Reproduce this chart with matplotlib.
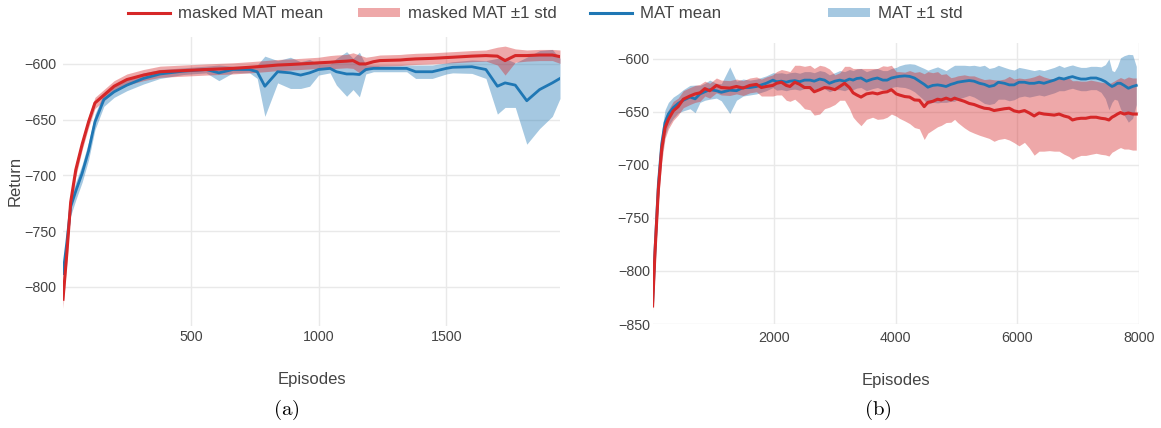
import matplotlib
matplotlib.use("Agg")
import matplotlib.pyplot as plt
from matplotlib.lines import Line2D
from matplotlib.patches import Patch
import numpy as np

plt.rcParams['font.family'] = ['Liberation Sans', 'DejaVu Sans']
plt.rcParams['mathtext.fontset'] = 'cm'

RED = '#d62728'
BLUE = '#1f77b4'
TXT = '#444444'
GRID = '#e9e9e9'

# ---- panel (a) ----
a_x = [0, 15, 30, 50, 75, 100, 125, 160, 200, 250, 315, 380, 470, 560, 610, 665,
       730, 760, 790, 840, 890, 930, 965, 1000, 1045, 1070, 1110, 1135, 1160, 1185,
       1215, 1240, 1320, 1345, 1380, 1445, 1500, 1525, 1600, 1655, 1700, 1730, 1770,
       1815, 1865, 1915, 1945]
a_masked_mean = [-811, -770, -724, -695, -672, -652, -635, -628, -620, -614, -610, -607,
                 -606, -605, -604.5, -604, -603, -602.5, -602, -601, -600.5, -600, -599.5,
                 -599, -598.5, -598, -597.5, -597, -600, -600, -598, -597, -596.5, -596,
                 -595.5, -595, -594.3, -594, -593, -592.5, -593, -597, -592.5, -592.5,
                 -592, -592, -593.5]
a_masked_std = [8, 8, 7, 6, 5, 5, 5, 5, 5, 5, 5, 5, 5, 5, 5, 5, 5, 5, 5, 5, 5, 5, 5,
                5, 6, 6, 6, 7, 8, 6, 5, 5, 5, 5, 5, 5, 5, 5, 5, 5, 8, 13, 6, 5, 5, 5, 6]
a_mat_mean = [-788, -760, -728, -714, -698, -678, -652, -632, -625, -619, -613, -609,
              -606.5, -605, -608, -605, -605, -607, -620, -607, -608, -610, -608, -605,
              -604, -607, -609, -609, -609.5, -605, -604, -604, -604, -604, -607, -607,
              -604, -603, -602.5, -605, -620, -617, -619, -633, -623, -617, -613]
a_mat_std = [8, 8, 8, 8, 8, 8, 7, 6, 5, 5, 5, 4, 3, 3, 7, 3, 3, 6, 27, 10, 14, 12, 12,
             5, 4, 12, 20, 14, 20, 4, 3, 3, 3, 3, 6, 6, 5, 5, 6, 8, 25, 22, 20, 39, 35,
             30, 18]

# ---- panel (b) ----
b_x = [0, 40, 95, 150, 205, 260, 340, 420, 505, 615, 700, 780, 860, 940, 1050, 1130,
       1270, 1380, 1490, 1600, 1710, 1790, 1870, 1980, 2040, 2120, 2200, 2260, 2340,
       2420, 2500, 2590, 2660, 2750, 2830, 2910, 3000, 3080, 3160, 3240, 3300, 3360,
       3430, 3520, 3620, 3700, 3790, 3860, 3930, 4010, 4060, 4150, 4230, 4310, 4390,
       4470, 4530, 4610, 4690, 4750, 4830, 4910, 4970, 5020, 5130, 5210, 5290, 5380,
       5460, 5540, 5620, 5690, 5790, 5870, 5950, 6030, 6120, 6200, 6280, 6360, 6440,
       6530, 6610, 6690, 6770, 6850, 6910, 6980, 7050, 7130, 7210, 7300, 7380, 7450,
       7510, 7560, 7600, 7650, 7700, 7760, 7830, 7900, 7960]
b_masked_mean = [-833, -782, -723, -685, -665, -657, -649, -645, -638, -635, -633, -632,
                 -628, -630, -625, -627, -627.5, -626, -627.5, -625, -624, -627, -626,
                 -625, -623, -622, -625, -626, -622, -624, -627, -627, -631, -629, -627,
                 -627.5, -629, -626, -623, -627, -632, -634, -636, -633, -632, -633,
                 -631.5, -631, -629, -633, -634, -635.5, -636, -638.7, -639, -645, -641,
                 -640, -638, -638.7, -637, -638.7, -637, -638, -640, -642, -643, -645,
                 -646.5, -647, -648.7, -648, -647, -646.5, -649, -650, -648.7, -651,
                 -653.8, -651, -652, -652.5, -653, -652, -653.8, -655, -657.6, -656.5,
                 -656, -656, -655, -655, -656, -656.5, -657.6, -655, -653.8, -652,
                 -650.6, -652, -651, -652, -652]
b_masked_std = [4, 10, 12, 12, 10, 9, 9, 8, 8, 8, 8, 8, 7, 7, 7, 7, 7, 7, 7, 7, 7, 8, 9,
                10, 11, 12, 14, 14, 16, 18, 20, 21, 22, 23, 20, 18, 14, 13, 16, 20, 23,
                25, 27, 24, 23, 24, 25, 24, 23, 21, 22, 23, 25, 26, 27, 31, 29, 27, 26,
                24, 23, 21, 20, 22, 25, 26, 27, 27, 27, 28, 29, 28, 28, 30, 30, 32, 30,
                33, 37, 36, 35, 34, 34, 35, 36, 37, 37, 36, 35, 35, 35, 34, 34, 34, 34,
                33, 33, 33, 33, 33, 34, 34, 34]
b_mat_mean = [-831, -780, -718, -680, -660, -652, -646, -642, -639, -636, -637.7, -633,
              -631, -629, -630, -631.5, -629.5, -630, -627, -627, -626, -624.5, -623,
              -620, -621.5, -621, -622, -621, -620.5, -621.5, -620, -620, -621, -619,
              -620, -623, -621, -620, -621, -619, -620, -618.5, -618, -621, -619, -618,
              -620, -620, -618, -617, -616.5, -616, -616.5, -618, -621, -624, -626.7,
              -625, -624.5, -625, -626, -624, -623, -622, -621, -620.4, -621, -623,
              -624, -626, -625, -622, -623, -624.5, -624.5, -622, -622, -623, -623,
              -622, -623, -621.4, -620, -618, -619, -617.5, -616.7, -618, -619, -619,
              -618, -618, -619.5, -621.4, -624, -626, -625, -623, -623, -625, -627.7,
              -626, -625]
b_mat_std = [4, 10, 13, 12, 12, 11, 10, 9, 10, 11, 13, 8, 8, 9, 7, 8, 22, 9, 8, 7, 7, 7,
             7, 7, 8, 8, 8, 8, 8, 8, 8, 8, 8, 8, 8, 8, 8, 9, 9, 9, 9, 9, 9, 9, 9, 9, 9,
             9, 9, 9, 10, 11, 12, 13, 14, 15, 16, 16, 17, 16, 15, 16, 17, 16, 15, 14,
             15, 16, 18, 17, 17, 16, 15, 15, 14, 14, 13, 13, 12, 12, 12, 12, 12, 12, 11,
             11, 11, 11, 11, 11, 11, 11, 12, 16, 24, 15, 13, 16, 24, 28, 32, 30, 18]


def draw(ax, x, m_mean, m_std, b_mean, b_std):
    x = np.array(x)
    m_mean, m_std = np.array(m_mean), np.array(m_std)
    b_mean, b_std = np.array(b_mean), np.array(b_std)
    ax.fill_between(x, b_mean - b_std, b_mean + b_std, color=BLUE, alpha=0.4, lw=0)
    ax.plot(x, b_mean, color=BLUE, lw=2.0)
    ax.fill_between(x, m_mean - m_std, m_mean + m_std, color=RED, alpha=0.4, lw=0)
    ax.plot(x, m_mean, color=RED, lw=2.2)
    for s in ax.spines.values():
        s.set_visible(False)
    ax.grid(True, color=GRID, lw=1.0)
    ax.set_axisbelow(True)
    ax.tick_params(length=0, labelsize=10.3, colors=TXT)
    ax.set_xlabel('Episodes', fontsize=12, color=TXT, labelpad=20)


W, H = 1161, 428
fig = plt.figure(figsize=(W / 100, H / 100), dpi=100)

ax1 = fig.add_axes([63 / W, 1 - 326 / H, (560 - 63) / W, (326 - 36.5) / H])
draw(ax1, a_x, a_masked_mean, a_masked_std, a_mat_mean, a_mat_std)
ax1.set_xlim(0, 1945)
ax1.set_ylim(-835, -575.4)
ax1.set_xticks([500, 1000, 1500])
ax1.set_yticks([-800, -750, -700, -650, -600])
ax1.tick_params(axis='y', pad=5)
ax1.tick_params(axis='x', pad=3)
ax1.set_ylabel('Return', fontsize=12, color=TXT, labelpad=1)

ax2 = fig.add_axes([652.6 / W, 1 - 324 / H, (1138.7 - 652.6) / W, (324 - 43) / H])
draw(ax2, b_x, b_masked_mean, b_masked_std, b_mat_mean, b_mat_std)
ax2.set_xlim(0, 8000)
ax2.set_ylim(-850, -585)
ax2.set_xticks([2000, 4000, 6000, 8000])
ax2.set_yticks([-850, -800, -750, -700, -650, -600])
ax2.tick_params(axis='y', pad=2)
ax2.tick_params(axis='x', pad=5)

# legend, one entry at a time to keep plotly-like spacing
handles = [Line2D([], [], color=RED, lw=2.2),
           Patch(facecolor=RED, alpha=0.4, lw=0),
           Line2D([], [], color=BLUE, lw=2.2),
           Patch(facecolor=BLUE, alpha=0.4, lw=0)]
labels = ['masked MAT mean', 'masked MAT \u00b11 std', 'MAT mean', 'MAT \u00b11 std']
starts = [128, 358, 590, 828]
for h, lab, sx in zip(handles, labels, starts):
    fig.legend([h], [lab], loc='center left', bbox_to_anchor=(sx / W, 1 - 14 / H),
               frameon=False, fontsize=12.2, labelcolor=TXT, borderpad=0,
               borderaxespad=0, handlelength=2.5, handleheight=0.5,
               handletextpad=0.47)

fig.text(286 / W, 1 - 410 / H, r'$\mathrm{(a)}$', fontsize=15, ha='center', va='center')
fig.text(878 / W, 1 - 410 / H, r'$\mathrm{(b)}$', fontsize=15, ha='center', va='center')

fig.savefig('out.png', dpi=100)
